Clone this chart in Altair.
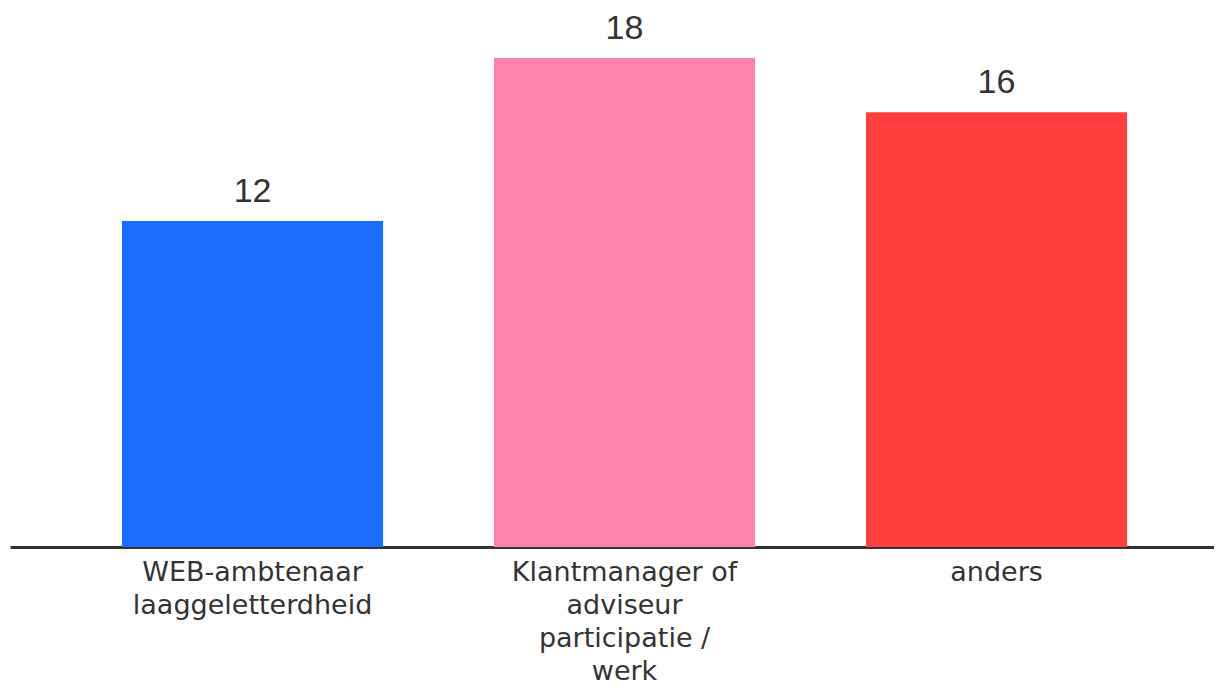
import altair as alt
import pandas as pd

categories = ["WEB-ambtenaar\nlaaggeletterdheid", "Klantmanager of\nadviseur\nparticipatie /\nwerk", "anders"]
values = [12, 18, 16]
colors = ["#1B6BFF", "#FF82AA", "#FF3F3D"]

df = pd.DataFrame({"cat": categories, "val": values, "col": colors})

x = alt.X("cat:N", sort=categories, title=None,
          scale=alt.Scale(paddingInner=0.298, paddingOuter=0.2673, align=0.563),
          axis=alt.Axis(labelAngle=0, ticks=False, domainColor="#333333", domainWidth=3,
                        labelExpr="split(datum.value, '\\n')", labelFont="DejaVu Sans",
                        labelFontSize=27, labelColor="#333333", labelLineHeight=33,
                        labelBaseline="top", labelPadding=12, labelLimit=400))
y = alt.Y("val:Q", title=None, scale=alt.Scale(domain=[0, 19.84], nice=False),
          axis=None)

bars = alt.Chart(df).mark_bar().encode(
    x=x, y=y, color=alt.Color("col:N", scale=None))
text = alt.Chart(df).mark_text(dy=-12, baseline="bottom", font="Liberation Sans",
                               fontSize=34, color="#333333").encode(
    x=alt.X("cat:N", sort=categories), y="val:Q", text="val:Q")

chart = (bars + text).properties(
    width=1204, height=539,
    autosize=alt.AutoSizeParams(type="none"),
    padding={"left": 2, "top": 0, "right": 0, "bottom": 141},
).configure(background="white").configure_view(stroke=None)

chart.save("out.html", embed_options={"renderer": "svg", "actions": False})
